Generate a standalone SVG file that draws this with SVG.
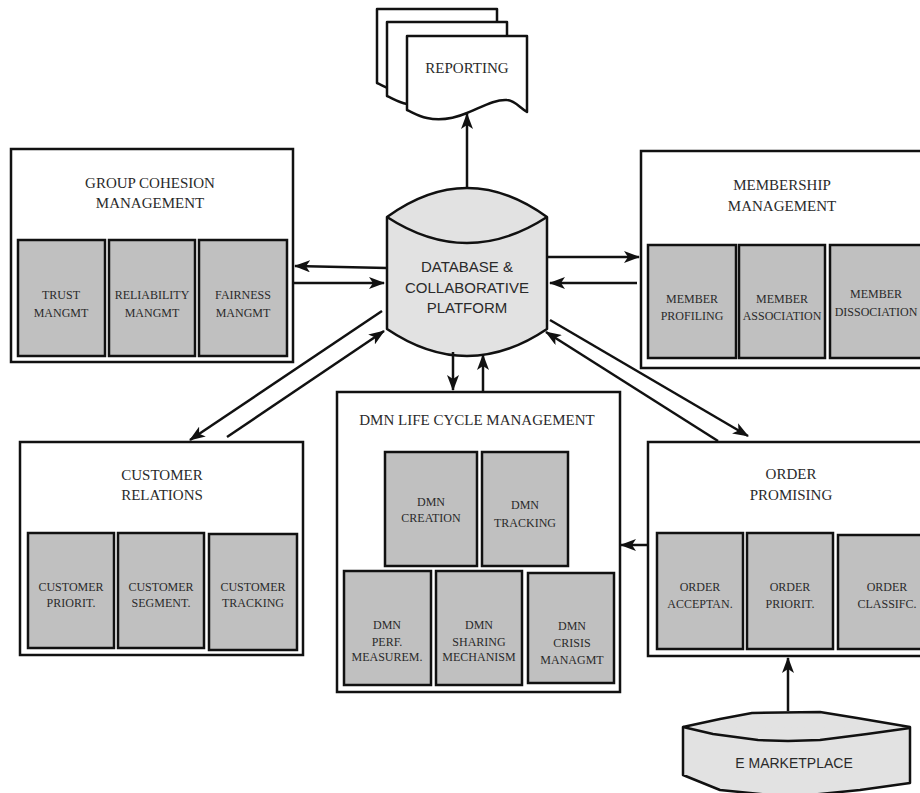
<svg xmlns="http://www.w3.org/2000/svg" width="920" height="793" viewBox="0 0 920 793">
<defs>
<style>
.outer{fill:#fff;stroke:#111;stroke-width:2.5}
.inner{fill:#c0c0c0;stroke:#111;stroke-width:2.5}
.db{fill:#e2e2e2;stroke:#111;stroke-width:2.5;stroke-linejoin:round}
.doc{fill:#fff;stroke:#111;stroke-width:2.5;stroke-linejoin:round}
.t{font-family:"Liberation Serif","DejaVu Serif",serif;font-size:15px;fill:#2a2a2a;text-anchor:middle}
.s{font-family:"Liberation Serif","DejaVu Serif",serif;font-size:12px;fill:#2a2a2a;text-anchor:middle}
.sans{font-family:"Liberation Sans","DejaVu Sans",sans-serif;font-size:15px;fill:#2a2a2a;text-anchor:middle}
.c{fill:none;stroke:#111;stroke-width:2.5;marker-end:url(#ah)}
</style>
<marker id="ah" viewBox="0 0 16 12" refX="15" refY="6" markerWidth="16" markerHeight="12" markerUnits="userSpaceOnUse" orient="auto">
<path d="M0,0 L16,6 L0,12 L4,6 Z" fill="#111"/>
</marker>
<path id="docshape" d="M407,36 H527 V112 C520,108 514,100 507,100 C495,99 480,108 467,113 C455,118 440,121 427,118 C418,116 412,112 407,110 Z"/>
</defs>

<g id="reporting">
<use href="#docshape" class="doc" transform="translate(-30,-27)"/>
<use href="#docshape" class="doc" transform="translate(-20,-14)"/>
<use href="#docshape" class="doc"/>
<text class="t" x="467" y="73">REPORTING</text>
</g>

<g id="group-cohesion">
<rect class="outer" x="11" y="149" width="282" height="213"/>
<text class="t" x="150" y="188">GROUP COHESION</text>
<text class="t" x="150" y="208">MANAGEMENT</text>
<rect class="inner" x="18" y="240" width="87" height="116"/>
<rect class="inner" x="109" y="240" width="86" height="116"/>
<rect class="inner" x="199" y="240" width="88" height="116"/>
<text class="s" x="61" y="299">TRUST</text>
<text class="s" x="61" y="317">MANGMT</text>
<text class="s" x="152" y="299">RELIABILITY</text>
<text class="s" x="152" y="317">MANGMT</text>
<text class="s" x="243" y="299">FAIRNESS</text>
<text class="s" x="243" y="317">MANGMT</text>
</g>

<g id="database">
<path class="db" d="M387,217 Q467,159 547,217 L547,329 Q467,383 387,329 Z"/>
<path class="db" d="M387,217 Q467,269 547,217" fill="none"/>
<text class="sans" x="467" y="272">DATABASE &amp;</text>
<text class="sans" x="467" y="293">COLLABORATIVE</text>
<text class="sans" x="467" y="313">PLATFORM</text>
</g>

<g id="membership">
<rect class="outer" x="641" y="151" width="290" height="217"/>
<text class="t" x="782" y="190">MEMBERSHIP</text>
<text class="t" x="782" y="211">MANAGEMENT</text>
<rect class="inner" x="648" y="245" width="88" height="113"/>
<rect class="inner" x="739" y="245" width="86" height="113"/>
<rect class="inner" x="830" y="245" width="92" height="113"/>
<text class="s" x="692" y="303">MEMBER</text>
<text class="s" x="692" y="320">PROFILING</text>
<text class="s" x="782" y="303">MEMBER</text>
<text class="s" x="782" y="320">ASSOCIATION</text>
<text class="s" x="876" y="298">MEMBER</text>
<text class="s" x="876" y="316">DISSOCIATION</text>
</g>

<g id="customer-relations">
<rect class="outer" x="20" y="442" width="283" height="213"/>
<text class="t" x="162" y="480">CUSTOMER</text>
<text class="t" x="162" y="500">RELATIONS</text>
<rect class="inner" x="28" y="533" width="86" height="115"/>
<rect class="inner" x="118" y="533" width="86" height="115"/>
<rect class="inner" x="209" y="534" width="88" height="116"/>
<text class="s" x="71" y="591">CUSTOMER</text>
<text class="s" x="71" y="607">PRIORIT.</text>
<text class="s" x="161" y="591">CUSTOMER</text>
<text class="s" x="161" y="607">SEGMENT.</text>
<text class="s" x="253" y="591">CUSTOMER</text>
<text class="s" x="253" y="607">TRACKING</text>
</g>

<g id="dmn-lifecycle">
<rect class="outer" x="337" y="392" width="283" height="300"/>
<text class="t" x="477" y="425">DMN LIFE CYCLE MANAGEMENT</text>
<rect class="inner" x="385" y="452" width="92" height="114"/>
<rect class="inner" x="482" y="452" width="86" height="114"/>
<rect class="inner" x="344" y="571" width="87" height="114"/>
<rect class="inner" x="436" y="571" width="86" height="114"/>
<rect class="inner" x="528" y="573" width="86" height="110"/>
<text class="s" x="431" y="506">DMN</text>
<text class="s" x="431" y="522">CREATION</text>
<text class="s" x="525" y="509">DMN</text>
<text class="s" x="525" y="527">TRACKING</text>
<text class="s" x="387" y="629">DMN</text>
<text class="s" x="387" y="646">PERF.</text>
<text class="s" x="387" y="661">MEASUREM.</text>
<text class="s" x="479" y="629">DMN</text>
<text class="s" x="479" y="646">SHARING</text>
<text class="s" x="479" y="661">MECHANISM</text>
<text class="s" x="572" y="630">DMN</text>
<text class="s" x="572" y="647">CRISIS</text>
<text class="s" x="572" y="664">MANAGMT</text>
</g>

<g id="order-promising">
<rect class="outer" x="648" y="442" width="290" height="214"/>
<text class="t" x="791" y="479">ORDER</text>
<text class="t" x="791" y="500">PROMISING</text>
<rect class="inner" x="657" y="533" width="86" height="116"/>
<rect class="inner" x="747" y="533" width="86" height="116"/>
<rect class="inner" x="838" y="535" width="95" height="114"/>
<text class="s" x="700" y="591">ORDER</text>
<text class="s" x="700" y="608">ACCEPTAN.</text>
<text class="s" x="790" y="591">ORDER</text>
<text class="s" x="790" y="608">PRIORIT.</text>
<text class="s" x="887" y="591">ORDER</text>
<text class="s" x="887" y="608">CLASSIFC.</text>
</g>

<g id="e-marketplace">
<path class="db" d="M683,727 L720,719 L752,713 L820,712 L857,718 L910,727 L910,783 L860,790 L790,797 L720,790 L683,775 Z"/>
<path class="db" fill="none" d="M683,727 L713,734 L758,740 L788,741 L820,740 L867,734 L910,728"/>
<text class="sans" x="794" y="768" style="font-size:14px">E MARKETPLACE</text>
</g>

<g id="connectors">
<line class="c" x1="467" y1="188" x2="467" y2="114"/>
<line class="c" x1="387" y1="268" x2="295" y2="266"/>
<line class="c" x1="293" y1="283" x2="384" y2="283"/>
<line class="c" x1="547" y1="257" x2="639" y2="257"/>
<line class="c" x1="637" y1="283" x2="550" y2="283"/>
<line class="c" x1="382" y1="311" x2="190" y2="440"/>
<line class="c" x1="227" y1="437" x2="384" y2="331"/>
<line class="c" x1="453" y1="352" x2="453" y2="390"/>
<line class="c" x1="483" y1="392" x2="483" y2="355"/>
<line class="c" x1="550" y1="320" x2="748" y2="436"/>
<line class="c" x1="718" y1="441" x2="546" y2="332"/>
<line class="c" x1="648" y1="545" x2="621" y2="545"/>
<line class="c" x1="788" y1="711" x2="788" y2="658"/>
</g>
</svg>
